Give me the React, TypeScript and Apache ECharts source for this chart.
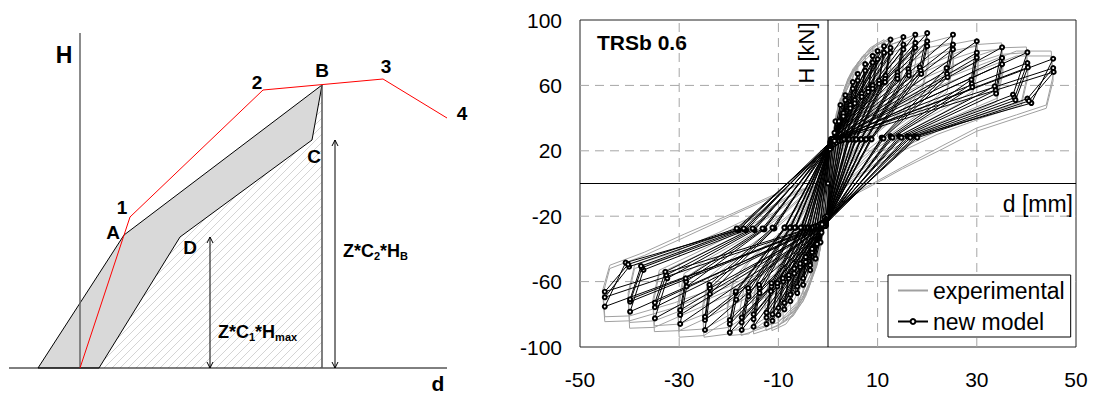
import React, { useEffect, useRef } from "react";
import * as echarts from "echarts";

const FONT = 'Arial, "Liberation Sans", Helvetica, sans-serif';

// ---------------- Left panel: schematic of the model (drawing units, origin at axes crossing) ----------------
const skeletonCurve = [[0, 0], [50, 151], [183, 278], [303, 289], [367, 250]];
const bandPolygon = [[-42, 0], [44, 133], [242, 283], [232, 228], [100, 131], [19, 0]];
const hatchPolygon = [[19, 0], [100, 131], [232, 228], [242, 283], [242, 0]];
const peakDrop = [[242, 283], [242, 0]];
const hAxisLine = [[0, 0], [0, 335]];
const dAxisLine = [[-71, 0], [367, 0]];
const dimensionArrows = [[130, 131, 0], [255, 228, 0]];
const pointLabels: [string, number, number][] = [
  ["1", 42, 161], ["2", 177, 286], ["B", 242, 298], ["3", 306, 302], ["4", 382, 255],
  ["A", 33, 136], ["C", 234, 212], ["D", 110, 121],
];
const axisTitles: [string, number, number, number][] = [["H", -16, 313, 23], ["d", 358, -15, 21]];
const formulaLabels: [string, number, number][] = [
  ["{m|Z*C}{s|2}{m|*H}{s|B}", 263, 117],
  ["{m|Z*C}{s|1}{m|*H}{s|max}", 138, 36],
];

// ---------------- Right panel: TRSb 0.6 hysteresis ----------------
const xTickLabels = [-50, -30, -10, 10, 30, 50];
const yTickLabels = [100, 60, 20, -20, -60, -100];
const xGridLines = [-30, -10, 10, 30];
const yGridLines = [60, 20, -20, -60];

// new model: vertices of each cycle (peak, unloading, release, pinching) on both sides
const modelPosPeak = [
  [1.5,38],[2.5,48],[3.5,54],[3.5,51],[5,62],[5,58],[6,67],[6,63],[7.5,73],[7.5,69],
  [9,78],[9,74],[10,81],[10,76],[11.3,84],[11.3,80],[12.6,88],[12.6,83],[12.6,80],[15.2,89.6],
  [15.2,85],[15.2,82],[17.6,91],[17.6,86],[17.6,83],[20,92],[20,87],[20,84],[25.2,91],[25.2,85],
  [25.2,82],[30,87],[30,80],[30,77],[35.1,83.3],[35.1,76.8],[35.1,73],[40.2,80.2],[40.2,73.7],[40.3,71],
  [45.4,76.3],[45.4,70.6],[45.5,68.2],
];
const modelPosUnload = [
  [1.3,31],[2.2,38],[3.1,43],[3.1,41],[4.5,48],[4.5,46],[5.4,51],[5.4,49],[6.8,55],[6.8,53],
  [8.1,58],[8.1,56],[9,60],[9,58],[10.3,63],[10.3,61],[11.6,66],[11.5,64],[11.5,62],[14,68],
  [14,66],[14,64],[16.2,70],[16.3,68],[16.3,66],[18.5,71],[18.7,69],[18.8,67],[23.9,70.6],[24,67],
  [24.1,65],[28.9,63.5],[29,61],[29.1,59],[33.6,59.4],[33.8,57],[33.9,55],[37.3,54.3],[37.6,52.5],[37.8,51],
  [41,49.2],[40.2,51.9],[40.5,50.5],
];
const modelPosRelease = [
  [0.7,22],[1.2,24],[1.6,25],[1.7,25],[2.2,26],[2.3,26],[2.7,26.5],[2.8,26.5],[3.2,27],[3.3,27],
  [3.9,27],[4,27],[4.2,27],[4.3,27],[4.9,27],[5,27],[5.5,27],[5.6,27],[5.7,27],[6.5,27],
  [6.6,27],[6.7,27],[7.5,27],[7.6,27],[7.7,27],[8.6,27.5],[8.7,27.5],[8.8,27],[10.8,28],[11,28],
  [11.2,27.5],[12.6,29],[12.8,28.5],[13,28],[14.3,29],[14.6,28.5],[14.8,28],[16,29],[16.3,28.5],[16.6,28],
  [17.5,29],[17.8,28.5],[18,28],
];
const modelNegPinch = [
  [-0.3,-20],[-0.4,-22],[-0.4,-23],[-0.5,-23],[-0.5,-24],[-0.5,-24],[-0.5,-24],[-0.5,-25],[-0.5,-25],[-0.6,-25],
  [-0.5,-25],[-0.6,-25],[-0.5,-25],[-0.6,-25],[-0.5,-26],[-0.6,-25],[-0.5,-25],[-0.6,-25],[-0.6,-26],[-0.5,-26],
  [-0.6,-25],[-0.7,-26],[-0.5,-26],[-0.7,-25],[-0.6,-26],[-0.6,-26],[-0.7,-25],[-0.8,-26],[-0.6,-26],[-0.8,-25],
  [-0.9,-25],[-0.7,-26],[-0.8,-25],[-1,-25],[-0.8,-26],[-0.9,-25],[-1,-25],[-0.8,-26],[-1,-25],[-1.1,-25],
  [-0.9,-26],[-1.1,-25],[-1.2,-25],
];
const modelNegPeak = [
  [-1.5,-36],[-2.5,-46],[-3.6,-53],[-3.6,-50],[-5,-62],[-5,-58],[-6.2,-67],[-6.2,-63],[-7.6,-72],[-7.6,-68],
  [-8.8,-77],[-8.8,-73],[-10,-80.4],[-10,-76],[-11.2,-84],[-11.2,-80],[-12.4,-86],[-12.4,-82],[-12.4,-79],[-15,-87.6],
  [-15,-83],[-15,-80],[-17.4,-89.6],[-17.4,-85],[-17.4,-82],[-19.8,-91.2],[-19.8,-86],[-19.8,-83.5],[-24.8,-89.6],[-24.8,-83.5],
  [-24.8,-81.5],[-29.8,-85.9],[-29.8,-80.4],[-29.8,-77.4],[-34.9,-82.5],[-34.9,-75.7],[-34.9,-72.9],[-39.9,-78.4],[-39.9,-72.3],[-39.9,-70.8],
  [-45,-75.3],[-45,-69.6],[-45,-66.2],
];
const modelNegUnload = [
  [-1.3,-30],[-2.2,-37],[-3.2,-42],[-3.2,-40],[-4.5,-48],[-4.5,-45],[-5.6,-51],[-5.6,-49],[-6.8,-55],[-6.8,-52],
  [-7.9,-58],[-7.9,-56],[-9,-60],[-9.1,-58],[-10.2,-63],[-10.2,-61],[-11.5,-66],[-11.4,-63],[-11.4,-61],[-13.8,-67],
  [-13.8,-64],[-13.9,-62],[-16,-69],[-16,-66],[-16.1,-64],[-18.5,-71],[-18.6,-67],[-18.6,-66],[-23.8,-67.6],[-23.8,-64],
  [-23.9,-62],[-28.5,-63],[-28.6,-60],[-28.7,-58],[-32.4,-58],[-32.6,-56],[-32.8,-54],[-37.2,-52.9],[-37.5,-51.5],[-37.7,-50.5],
  [-40.8,-48.4],[-40.1,-50.9],[-40.3,-49.5],
];
const modelNegRelease = [
  [-0.7,-21],[-1.2,-24],[-1.6,-25],[-1.7,-25],[-2.2,-26],[-2.3,-26],[-2.7,-26.5],[-2.8,-26.5],[-3.2,-27],[-3.3,-27],
  [-3.8,-27],[-3.9,-27],[-4.2,-27],[-4.3,-27],[-4.8,-27],[-4.9,-27],[-5.3,-27],[-5.4,-27],[-5.5,-27],[-6.5,-27],
  [-6.6,-27],[-6.7,-27],[-7.5,-27],[-7.6,-27],[-7.7,-27],[-8.6,-27],[-8.7,-27],[-8.8,-27],[-10.8,-27.5],[-11,-27.5],
  [-11.2,-27],[-12.8,-28],[-13,-28],[-13.2,-27.5],[-14.8,-28.5],[-15,-28],[-15.2,-27.5],[-16.5,-28.5],[-16.8,-28],[-17,-27.5],
  [-18,-28.5],[-18.2,-28],[-18.4,-27.5],
];
const modelPosPinch = [
  [0.4,21],[0.5,23],[0.5,23],[0.5,24],[0.5,24],[0.5,25],[0.5,25],[0.6,25],[0.5,26],[0.6,26],
  [0.6,26],[0.6,26],[0.6,26],[0.7,26],[0.6,26],[0.7,26],[0.6,26],[0.7,26],[0.7,27],[0.6,27],
  [0.7,26],[0.7,27],[0.6,27],[0.8,26],[0.7,27],[0.7,27],[0.8,26],[0.8,27],[0.7,27],[0.9,26],
  [1,26],[0.8,27],[1,26],[1.1,26],[0.9,27],[1,26],[1.2,26],[0.9,27],[1.1,26],[1.2,26],
  [1,27],[1.2,26],[1.3,26],
];

// experimental: traced loops per amplitude level
const expCycle25 = [[0,0],[0.8,25],[1.6,42],[2.5,52],[2.6,40],[2,25],[1,8],[0,-8],[-0.8,-25],[-1.6,-40],[-2.5,-50],[-2.6,-38],[-2,-24],[-1,-8]];
const expCycle35 = [[0,4],[0.8,27],[2,45],[3.5,57],[3.6,45],[3,30],[1.5,12],[0,-6],[-0.8,-27],[-2,-45],[-3.5,-56],[-3.6,-44],[-3,-29],[-1.5,-11]];
const expCycle50 = [[0,5],[0.7,25],[2,45],[3.5,60],[5,68],[5.1,55],[4.5,40],[3,22],[1.5,8],[0,-8],[-0.7,-25],[-2,-45],[-3.5,-60],[-5,-68],[-5.1,-55],[-4.5,-40],[-3,-22],[-1.5,-6]];
const expCycle60 = [[0,6],[0.8,28],[2.2,48],[4,63],[6,72],[6.1,58],[5.4,43],[3.6,26],[1.6,8],[0,-8],[-0.8,-28],[-2.2,-48],[-4,-64],[-6,-73],[-6.1,-59],[-5.4,-43],[-3.6,-26],[-1.6,-7]];
const expCycle75 = [[0,6],[0.7,24],[2,45],[4,62],[6,74],[7.5,79],[7.6,64],[6.8,48],[5,32],[3,16],[1,0],[0,-10],[-0.8,-26],[-2,-46],[-4,-64],[-6,-75],[-7.5,-80],[-7.6,-64],[-6.8,-48],[-5,-31],[-3,-15],[-1,0]];
const expCycle90 = [[0,7],[0.9,29],[2.2,49],[4.5,67],[7,78],[9,83],[9.2,67],[8.3,50],[6.3,34],[3.6,17],[1.3,1],[0,-10],[-0.9,-29],[-2.2,-50],[-4.5,-69],[-7,-81],[-9,-85],[-9.2,-69],[-8.3,-51],[-6.3,-34],[-3.6,-17],[-1.3,-1]];
const expCycle100 = [[0,8],[0.8,26],[2,46],[4,64],[7,78],[10,86],[10.2,70],[9.3,52],[7,36],[4,18],[1.5,2],[0,-10],[-0.8,-27],[-2,-47],[-4,-65],[-7,-80],[-10,-87],[-10.2,-71],[-9.3,-53],[-7,-36],[-4,-18],[-1.5,-2]];
const expCycle100b = [[0,7],[0.9,27],[2.1,47],[4.2,65],[7,77],[10,83],[10.2,68],[9.2,51],[7,35],[4,17],[1.5,1],[0,-11],[-0.9,-28],[-2.1,-48],[-4.2,-66],[-7,-79],[-10,-84],[-10.2,-69],[-9.2,-52],[-7,-35],[-4,-17],[-1.5,-1]];
const expCycle113 = [[0,8],[1,30],[2.4,50],[5,70],[8.5,83],[11.3,88],[11.5,71],[10.6,54],[8,39],[4.5,21],[1.8,4],[0,-10],[-1,-30],[-2.4,-51],[-5,-72],[-8.5,-86],[-11.3,-90],[-11.5,-72],[-10.6,-55],[-8,-39],[-4.5,-21],[-1.8,-3]];
const expCycle125 = [[0,8],[1,28],[2.5,48],[5,68],[9,83],[12.5,89],[12.7,72],[11.8,55],[9,40],[5,22],[2,5],[0,-10],[-1,-28],[-2.5,-50],[-5,-70],[-9,-85],[-12.5,-90],[-12.7,-73],[-11.8,-56],[-9,-40],[-5,-22],[-2,-4]];
const expCycle150 = [[0,8],[1,28],[3,52],[6,72],[10,85],[15,90],[15.2,74],[14.2,57],[11,42],[6,24],[2.5,6],[0,-10],[-1,-28],[-3,-52],[-6,-73],[-10,-87],[-15,-92],[-15.2,-75],[-14.2,-58],[-11,-42],[-6,-24],[-2.5,-5]];
const expCycle150b = [[0,7],[1.1,29],[3.1,53],[6,71],[10,83],[15,87],[15.2,71],[14.1,55],[11,41],[6,23],[2.5,5],[0,-11],[-1.1,-29],[-3.1,-53],[-6,-72],[-10,-85],[-15,-89],[-15.2,-72],[-14.1,-56],[-11,-41],[-6,-23],[-2.5,-4]];
const expCycle175 = [[0,8],[1,26],[3,48],[7,70],[12,84],[17.5,91],[17.7,75],[16.6,58],[13,43],[7,25],[3,7],[0,-10],[-1,-27],[-3,-50],[-7,-72],[-12,-87],[-17.5,-93],[-17.7,-76],[-16.6,-59],[-13,-43],[-7,-25],[-3,-6]];
const expCycle200 = [[0,8],[1,25],[3,45],[7,66],[13,82],[17,89],[20,91],[20.3,76],[19,59],[15,45],[8,27],[3.5,8],[0,-10],[-1,-26],[-3,-47],[-7,-68],[-13,-85],[-16,-92],[-20,-93],[-20.3,-77],[-19,-60],[-15,-45],[-8,-27],[-3.5,-7]];
const expCycle200b = [[0,7],[1.1,26],[3.1,46],[7,65],[13,80],[17,86],[20,88],[20.3,73],[19,57],[15,44],[8,26],[3.5,7],[0,-11],[-1.1,-27],[-3.1,-48],[-7,-67],[-13,-83],[-16,-89],[-20,-90],[-20.3,-74],[-19,-58],[-15,-44],[-8,-26],[-3.5,-6]];
const expCycle250 = [[0,6],[1,22],[3,40],[8,60],[14,76],[20,86],[25,90],[25.3,76],[24,58],[19,46],[13,33],[7,18],[3,4],[0,-10],[-1,-24],[-3,-42],[-8,-62],[-14,-79],[-20,-92],[-25,-94],[-25.3,-78],[-24,-60],[-19,-47],[-13,-34],[-7,-18],[-3,-4]];
const expCycle250b = [[0,5],[1.1,21],[3.2,39],[8,58],[14,73],[20,83],[25,86],[25.3,72],[24,56],[19,44],[13,31],[7,16],[3,3],[0,-11],[-1.1,-23],[-3.2,-41],[-8,-60],[-14,-76],[-20,-88],[-25,-90],[-25.3,-75],[-24,-57],[-19,-45],[-13,-32],[-7,-17],[-3,-3]];
const expCycle300 = [[0,5],[1,20],[3,36],[8,55],[15,72],[23,84],[30,88],[30.3,74],[29,56],[23,45],[16,34],[9,20],[4,5],[0,-10],[-1,-22],[-3,-38],[-8,-58],[-15,-75],[-22,-87],[-25,-93],[-30,-94],[-30.3,-78],[-29,-58],[-23,-46],[-16,-34],[-9,-19],[-4,-5]];
const expCycle300b = [[0,4],[1.1,19],[3.2,35],[8,53],[15,69],[23,80],[30,84],[30.3,70],[29,53],[23,43],[16,32],[9,18],[4,4],[0,-11],[-1.1,-21],[-3.2,-37],[-8,-56],[-15,-72],[-22,-84],[-25,-89],[-30,-90],[-30.3,-74],[-29,-55],[-23,-44],[-16,-32],[-9,-18],[-4,-4]];
const expCycle350 = [[0,4],[1,18],[3,33],[9,52],[17,68],[26,80],[30,85],[35,86],[35.3,72],[34,52],[27,43],[19,33],[11,20],[5,5],[0,-10],[-1,-20],[-3,-35],[-9,-54],[-17,-71],[-25,-83],[-30,-90],[-35,-90.6],[-35.3,-74],[-34,-55],[-27,-45],[-19,-33],[-11,-19],[-5,-5]];
const expCycle350b = [[0,3],[1.1,17],[3.2,32],[9,50],[17,65],[26,77],[30,81],[35,82],[35.3,68],[34,50],[27,41],[19,31],[11,18],[5,4],[0,-11],[-1.1,-19],[-3.2,-34],[-9,-52],[-17,-68],[-25,-80],[-30,-86],[-35,-87],[-35.3,-71],[-34,-53],[-27,-43],[-19,-31],[-11,-18],[-5,-4]];
const expCycle400 = [[0,2],[1,16],[3,30],[10,48],[19,64],[29,77],[35,83],[40,83.5],[40.3,68],[39,50],[31,42],[22,32],[13,19],[6,5],[0,-10],[-1,-18],[-3,-32],[-10,-50],[-19,-67],[-29,-80],[-35,-88],[-40,-88.5],[-40.3,-70],[-39,-52],[-31,-44],[-22,-32],[-13,-18],[-6,-5]];
const expCycle400b = [[0,1],[1.1,15],[3.2,29],[10,46],[19,61],[29,73],[35,79],[40,80],[40.3,65],[39,48],[31,40],[22,30],[13,17],[6,4],[0,-11],[-1.1,-17],[-3.2,-31],[-10,-48],[-19,-64],[-29,-77],[-35,-84],[-40,-85],[-40.3,-67],[-39,-50],[-31,-42],[-22,-30],[-13,-17],[-6,-4]];
const expCycle450 = [[0,0],[1,14],[3,27],[11,45],[21,61],[32,74],[38,81],[45,81],[45.4,66],[44,48],[38,42],[30,34],[23,23],[15,10],[9,0],[4,-8],[0,-17],[-2,-30],[-10,-47],[-20,-63],[-31,-76],[-40,-84],[-45,-84.5],[-45.4,-68],[-44,-52],[-37,-44],[-29,-33],[-19,-19],[-9.5,-6],[-4,2]];
const expCycle450b = [[0,-1],[1.1,13],[3.2,26],[11,43],[21,58],[32,71],[38,78],[45,78],[45.4,63],[44,46],[38,40],[30,32],[23,21],[15,9],[9,-1],[4,-9],[0,-18],[-2,-29],[-10,-45],[-20,-61],[-31,-73],[-40,-81],[-45,-81.5],[-45.4,-65],[-44,-50],[-37,-42],[-29,-31],[-19,-18],[-9.5,-5],[-4,2]];

const experimentalPath = [
  ...expCycle25, ...expCycle35, ...expCycle50, ...expCycle60, ...expCycle75, ...expCycle90,
  ...expCycle100, ...expCycle100b, ...expCycle113, ...expCycle125,
  ...expCycle150, ...expCycle150b, ...expCycle175, ...expCycle200, ...expCycle200b,
  ...expCycle250, ...expCycle250b, ...expCycle300, ...expCycle300b, ...expCycle350, ...expCycle350b,
  ...expCycle400, ...expCycle400b, ...expCycle450, ...expCycle450b,
];

const modelPath: number[][] = [[0, 0]];
for (let i = 0; i < modelPosPeak.length; i++) {
  modelPath.push(
    modelPosPeak[i], modelPosUnload[i], modelPosRelease[i], modelNegPinch[i],
    modelNegPeak[i], modelNegUnload[i], modelNegRelease[i], modelPosPinch[i]
  );
}

export default function App() {
  const ref = useRef<HTMLDivElement>(null);

  useEffect(() => {
    if (!ref.current) return;
    const chart = echarts.init(ref.current, undefined, { renderer: "svg" });
    const yMin = Math.min(...yTickLabels);
    const yMax = Math.max(...yTickLabels);
    const xMin = Math.min(...xTickLabels);
    const xMax = Math.max(...xTickLabels);

    const left = { xAxisIndex: 0, yAxisIndex: 0 };
    const right = { xAxisIndex: 1, yAxisIndex: 1 };

    const option: any = {
      animation: false,
      textStyle: { fontFamily: FONT },
      grid: [
        { left: 0, top: 0, width: 480, height: 394, show: false },
        { left: 580, top: 20, width: 496, height: 327, show: true, borderColor: "#222", borderWidth: 1 },
      ],
      xAxis: [
        { gridIndex: 0, type: "value", min: -80, max: 400, show: false },
        {
          gridIndex: 1, type: "value", min: xMin, max: xMax, interval: 10,
          axisLine: { show: false }, axisTick: { show: false }, splitLine: { show: false },
          axisLabel: {
            formatter: (v: number) => (xTickLabels.includes(v) ? String(v) : ""),
            fontSize: 21, color: "#000", margin: 22, fontFamily: FONT,
          },
        },
      ],
      yAxis: [
        { gridIndex: 0, type: "value", min: -26, max: 368, show: false },
        {
          gridIndex: 1, type: "value", min: yMin, max: yMax, interval: 20,
          axisLine: { show: false }, axisTick: { show: false }, splitLine: { show: false },
          axisLabel: {
            formatter: (v: number) => (yTickLabels.includes(v) ? String(v) : ""),
            fontSize: 21, color: "#000", margin: 18, fontFamily: FONT,
          },
        },
      ],
      legend: {
        data: [
          { name: "experimental", itemStyle: { opacity: 0 } },
          { name: "new model" },
        ],
        orient: "vertical",
        left: 888, top: 275,
        padding: [4, 6, 4, 9],
        itemGap: 8,
        itemWidth: 30,
        itemHeight: 6,
        backgroundColor: "#fff",
        borderColor: "#000",
        borderWidth: 1,
        borderRadius: 0,
        textStyle: { fontSize: 23, color: "#000", fontFamily: FONT },
      },
      graphic: [
        { type: "text", x: 597, y: 42, style: { text: "TRSb 0.6", font: `bold 21px ${FONT}`, fill: "#000", align: "left", verticalAlign: "middle" } },
        { type: "text", x: 806, y: 53, rotation: Math.PI / 2, style: { text: "H [kN]", font: `22px ${FONT}`, fill: "#000", align: "center", verticalAlign: "middle" } },
        { type: "text", x: 1073, y: 204, style: { text: "d [mm]", font: `23px ${FONT}`, fill: "#000", align: "right", verticalAlign: "middle" } },
      ],
      series: [
        // ---------- left schematic ----------
        {
          type: "custom", name: "hatch", ...left, clip: false, silent: true, z: 1,
          data: [0],
          renderItem: (_p: any, api: any) => {
            const pts = hatchPolygon.map((p) => api.coord(p));
            const sums = pts.map((p: number[]) => p[0] + p[1]);
            const lo = Math.min(...sums), hi = Math.max(...sums);
            const step = 8;
            const children: any[] = [];
            for (let c = Math.ceil(lo / step) * step; c <= hi; c += step) {
              const hits: number[][] = [];
              for (let i = 0; i < pts.length; i++) {
                const a = pts[i], b = pts[(i + 1) % pts.length];
                const fa = a[0] + a[1] - c, fb = b[0] + b[1] - c;
                if ((fa < 0) !== (fb < 0)) {
                  const t = fa / (fa - fb);
                  hits.push([a[0] + t * (b[0] - a[0]), a[1] + t * (b[1] - a[1])]);
                }
              }
              hits.sort((p, q) => p[0] - q[0]);
              for (let k = 0; k + 1 < hits.length; k += 2) {
                children.push({
                  type: "line",
                  shape: { x1: hits[k][0], y1: hits[k][1], x2: hits[k + 1][0], y2: hits[k + 1][1] },
                  style: { stroke: "#d4d4d4", lineWidth: 1 },
                });
              }
            }
            return { type: "group", children };
          },
        },
        {
          type: "custom", name: "band", ...left, clip: false, silent: true, z: 2,
          data: [0],
          renderItem: (_p: any, api: any) => ({
            type: "polygon",
            shape: { points: bandPolygon.map((p) => api.coord(p)) },
            style: { fill: "#d9d9d9", stroke: "#000", lineWidth: 1 },
          }),
        },
        { type: "line", name: "hAxis", ...left, data: hAxisLine, symbol: "none", silent: true, z: 3, lineStyle: { color: "#666", width: 1.5 } },
        { type: "line", name: "dAxis", ...left, data: dAxisLine, symbol: "none", silent: true, z: 3, lineStyle: { color: "#000", width: 1 } },
        { type: "line", name: "peakDrop", ...left, data: peakDrop, symbol: "none", silent: true, z: 3, lineStyle: { color: "#555", width: 1.5 } },
        { type: "line", name: "skeleton", ...left, data: skeletonCurve, symbol: "none", silent: true, z: 4, lineStyle: { color: "#ff0000", width: 1 } },
        {
          type: "custom", name: "arrows", ...left, clip: false, silent: true, z: 4,
          data: dimensionArrows,
          renderItem: (_p: any, api: any) => {
            const top = api.coord([api.value(0), api.value(1)]);
            const bot = api.coord([api.value(0), api.value(2)]);
            const st = { stroke: "#000", lineWidth: 1, fill: "none" };
            return {
              type: "group",
              children: [
                { type: "line", shape: { x1: top[0], y1: top[1], x2: bot[0], y2: bot[1] }, style: st },
                { type: "polyline", shape: { points: [[top[0] - 3, top[1] + 6], [top[0], top[1]], [top[0] + 3, top[1] + 6]] }, style: st },
                { type: "polyline", shape: { points: [[bot[0] - 3, bot[1] - 6], [bot[0], bot[1]], [bot[0] + 3, bot[1] - 6]] }, style: st },
              ],
            };
          },
        },
        {
          type: "custom", name: "labels", ...left, clip: false, silent: true, z: 5,
          data: pointLabels.map((l) => [l[1], l[2]]),
          renderItem: (p: any, api: any) => {
            const c = api.coord([api.value(0), api.value(1)]);
            return {
              type: "text", x: c[0], y: c[1],
              style: { text: pointLabels[p.dataIndex][0], font: `bold 19px ${FONT}`, fill: "#000", align: "center", verticalAlign: "middle" },
            };
          },
        },
        {
          type: "custom", name: "axisTitles", ...left, clip: false, silent: true, z: 5,
          data: axisTitles.map((l) => [l[1], l[2]]),
          renderItem: (p: any, api: any) => {
            const c = api.coord([api.value(0), api.value(1)]);
            const t = axisTitles[p.dataIndex];
            return {
              type: "text", x: c[0], y: c[1],
              style: { text: t[0], font: `bold ${t[3]}px ${FONT}`, fill: "#000", align: "center", verticalAlign: "middle" },
            };
          },
        },
        {
          type: "custom", name: "formulas", ...left, clip: false, silent: true, z: 5,
          data: formulaLabels.map((l) => [l[1], l[2]]),
          renderItem: (p: any, api: any) => {
            const c = api.coord([api.value(0), api.value(1)]);
            return {
              type: "text", x: c[0], y: c[1],
              style: {
                text: formulaLabels[p.dataIndex][0],
                align: "left", verticalAlign: "middle",
                rich: {
                  m: { fontSize: 18, fontWeight: "bold", fontFamily: FONT, fill: "#000", lineHeight: 20 },
                  s: { fontSize: 11, fontWeight: "bold", fontFamily: FONT, fill: "#000", lineHeight: 11, verticalAlign: "bottom" },
                },
              },
            };
          },
        },
        // ---------- right chart ----------
        {
          type: "custom", name: "vgrid", ...right, silent: true, z: 1,
          data: xGridLines.map((v) => [v]),
          renderItem: (_p: any, api: any) => {
            const a = api.coord([api.value(0), yMin]);
            const b = api.coord([api.value(0), yMax]);
            return { type: "line", shape: { x1: a[0], y1: a[1], x2: b[0], y2: b[1] }, style: { stroke: "#a6a6a6", lineWidth: 1, lineDash: [9, 6] } };
          },
        },
        {
          type: "custom", name: "hgrid", ...right, silent: true, z: 1,
          data: yGridLines.map((v) => [0, v]),
          renderItem: (_p: any, api: any) => {
            const a = api.coord([xMin, api.value(1)]);
            const b = api.coord([xMax, api.value(1)]);
            return { type: "line", shape: { x1: a[0], y1: a[1], x2: b[0], y2: b[1] }, style: { stroke: "#a6a6a6", lineWidth: 1, lineDash: [9, 6] } };
          },
        },
        {
          type: "custom", name: "zeroLines", ...right, silent: true, z: 1,
          data: [[0, 0]],
          renderItem: (_p: any, api: any) => {
            const v1 = api.coord([0, yMin]), v2 = api.coord([0, yMax]);
            const h1 = api.coord([xMin, 0]), h2 = api.coord([xMax, 0]);
            return {
              type: "group",
              children: [
                { type: "line", shape: { x1: v1[0], y1: v1[1], x2: v2[0], y2: v2[1] }, style: { stroke: "#000", lineWidth: 1 } },
                { type: "line", shape: { x1: h1[0], y1: h1[1], x2: h2[0], y2: h2[1] }, style: { stroke: "#000", lineWidth: 1 } },
              ],
            };
          },
        },
        {
          type: "line", name: "experimental", ...right, data: experimentalPath, z: 3,
          symbol: "none", silent: true,
          lineStyle: { color: "#a0a0a0", width: 1 }, itemStyle: { color: "#a0a0a0" },
        },
        {
          type: "line", name: "new model", ...right, data: modelPath, z: 4,
          symbol: "emptyCircle", symbolSize: 4, showSymbol: true, silent: true,
          lineStyle: { color: "#000", width: 1 }, itemStyle: { color: "#000", borderWidth: 1 },
        },
      ],
    };

    chart.setOption(option);
    return () => chart.dispose();
  }, []);

  return <div ref={ref} style={{ position: "absolute", left: 0, top: 0, width: 1093, height: 394 }} />;
}
